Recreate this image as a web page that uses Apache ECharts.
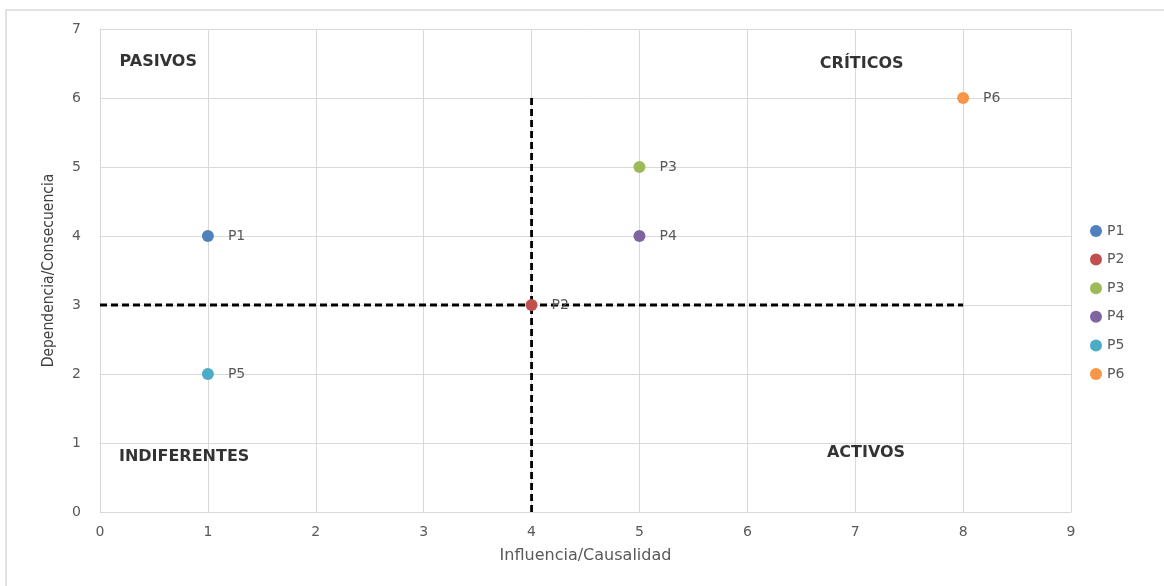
<!DOCTYPE html>
<html>
<head>
<meta charset="utf-8">
<script src="https://cdn.jsdelivr.net/npm/echarts@6/dist/echarts.min.js"></script>
<style>html,body{margin:0;padding:0;background:#fff}#c{width:1164px;height:586px}</style>
</head>
<body>
<div id="c"></div>
<script>
const names = ['P1','P2','P3','P4','P5','P6'];
const xVals = [1, 4, 5, 5, 1, 8];
const yVals = [4, 3, 5, 4, 2, 6];
const colors = ['#4F81BD','#C0504D','#9BBB59','#8064A2','#4BACC6','#F79646'];
const vLine = [[4,0],[4,6]];
const hLine = [[0,3],[8,3]];
const quadNames = ['PASIVOS','CRÍTICOS','INDIFERENTES','ACTIVOS'];
const quadX = [0.54, 7.06, 0.78, 7.10];
const quadY = [6.52, 6.50, 0.80, 0.86];

const FONT = '"DejaVu Sans", sans-serif';
const chart = echarts.init(document.getElementById('c'));
const series = [
  {type:'line', data: vLine, symbol:'none', silent:true, z:3,
   lineStyle:{color:'#000', width:2.8, type:[7,4]}},
  {type:'line', data: hLine, symbol:'none', silent:true, z:3,
   lineStyle:{color:'#000', width:2.8, type:[7,4]}},
  {type:'scatter', data: quadNames.map((n,i)=>({value:[quadX[i],quadY[i]], name:n})),
   symbolSize:0, silent:true, z:5,
   label:{show:true, position:'inside', formatter:p=>p.name, color:'#000',
          fontFamily:FONT, fontWeight:'bold', fontSize:16}}
];
names.forEach((n,i)=>{
  series.push({
    name:n, type:'scatter', data:[[xVals[i], yVals[i]]], symbolSize:12, z:4,
    itemStyle:{color:colors[i], opacity:1},
    label:{show:true, position:'right', distance:14, formatter:n, color:'#595959',
           fontFamily:FONT, fontSize:14}
  });
});

chart.setOption({
  animation:false,
  backgroundColor:'#fff',
  graphic:[{type:'rect', shape:{x:6,y:10,width:1170,height:600}, style:{fill:'none', stroke:'#d9d9d9', lineWidth:1.5}, silent:true, z:-1}],
  grid:{left:100, top:29, right:93, bottom:74},
  legend:{orient:'vertical', left:1085, top:219, itemGap:14.6, itemWidth:12, itemHeight:12,
    icon:'circle', data:names, itemStyle:{opacity:1},
    textStyle:{color:'#595959', fontFamily:FONT, fontSize:14}},
  xAxis:{type:'value', min:0, max:9, interval:1,
    name:'Influencia/Causalidad', nameLocation:'middle', nameGap:36,
    nameTextStyle:{color:'#595959', fontFamily:FONT, fontSize:16},
    axisLine:{show:true, lineStyle:{color:'#d9d9d9'}}, axisTick:{show:false},
    axisLabel:{color:'#595959', fontFamily:FONT, fontSize:14, margin:13},
    splitLine:{show:true, lineStyle:{color:'#d9d9d9'}}},
  yAxis:{type:'value', min:0, max:7, interval:1,
    name:'Dependencia/Consecuencia', nameLocation:'middle', nameGap:43,
    nameTextStyle:{color:'#404040', fontFamily:'"Liberation Sans Narrow", "DejaVu Sans Condensed", sans-serif', fontSize:15.5},
    axisLine:{show:true, lineStyle:{color:'#d9d9d9'}}, axisTick:{show:false},
    axisLabel:{color:'#595959', fontFamily:FONT, fontSize:14, margin:19},
    splitLine:{show:true, lineStyle:{color:'#d9d9d9'}}},
  series: series
});
</script>
</body>
</html>
